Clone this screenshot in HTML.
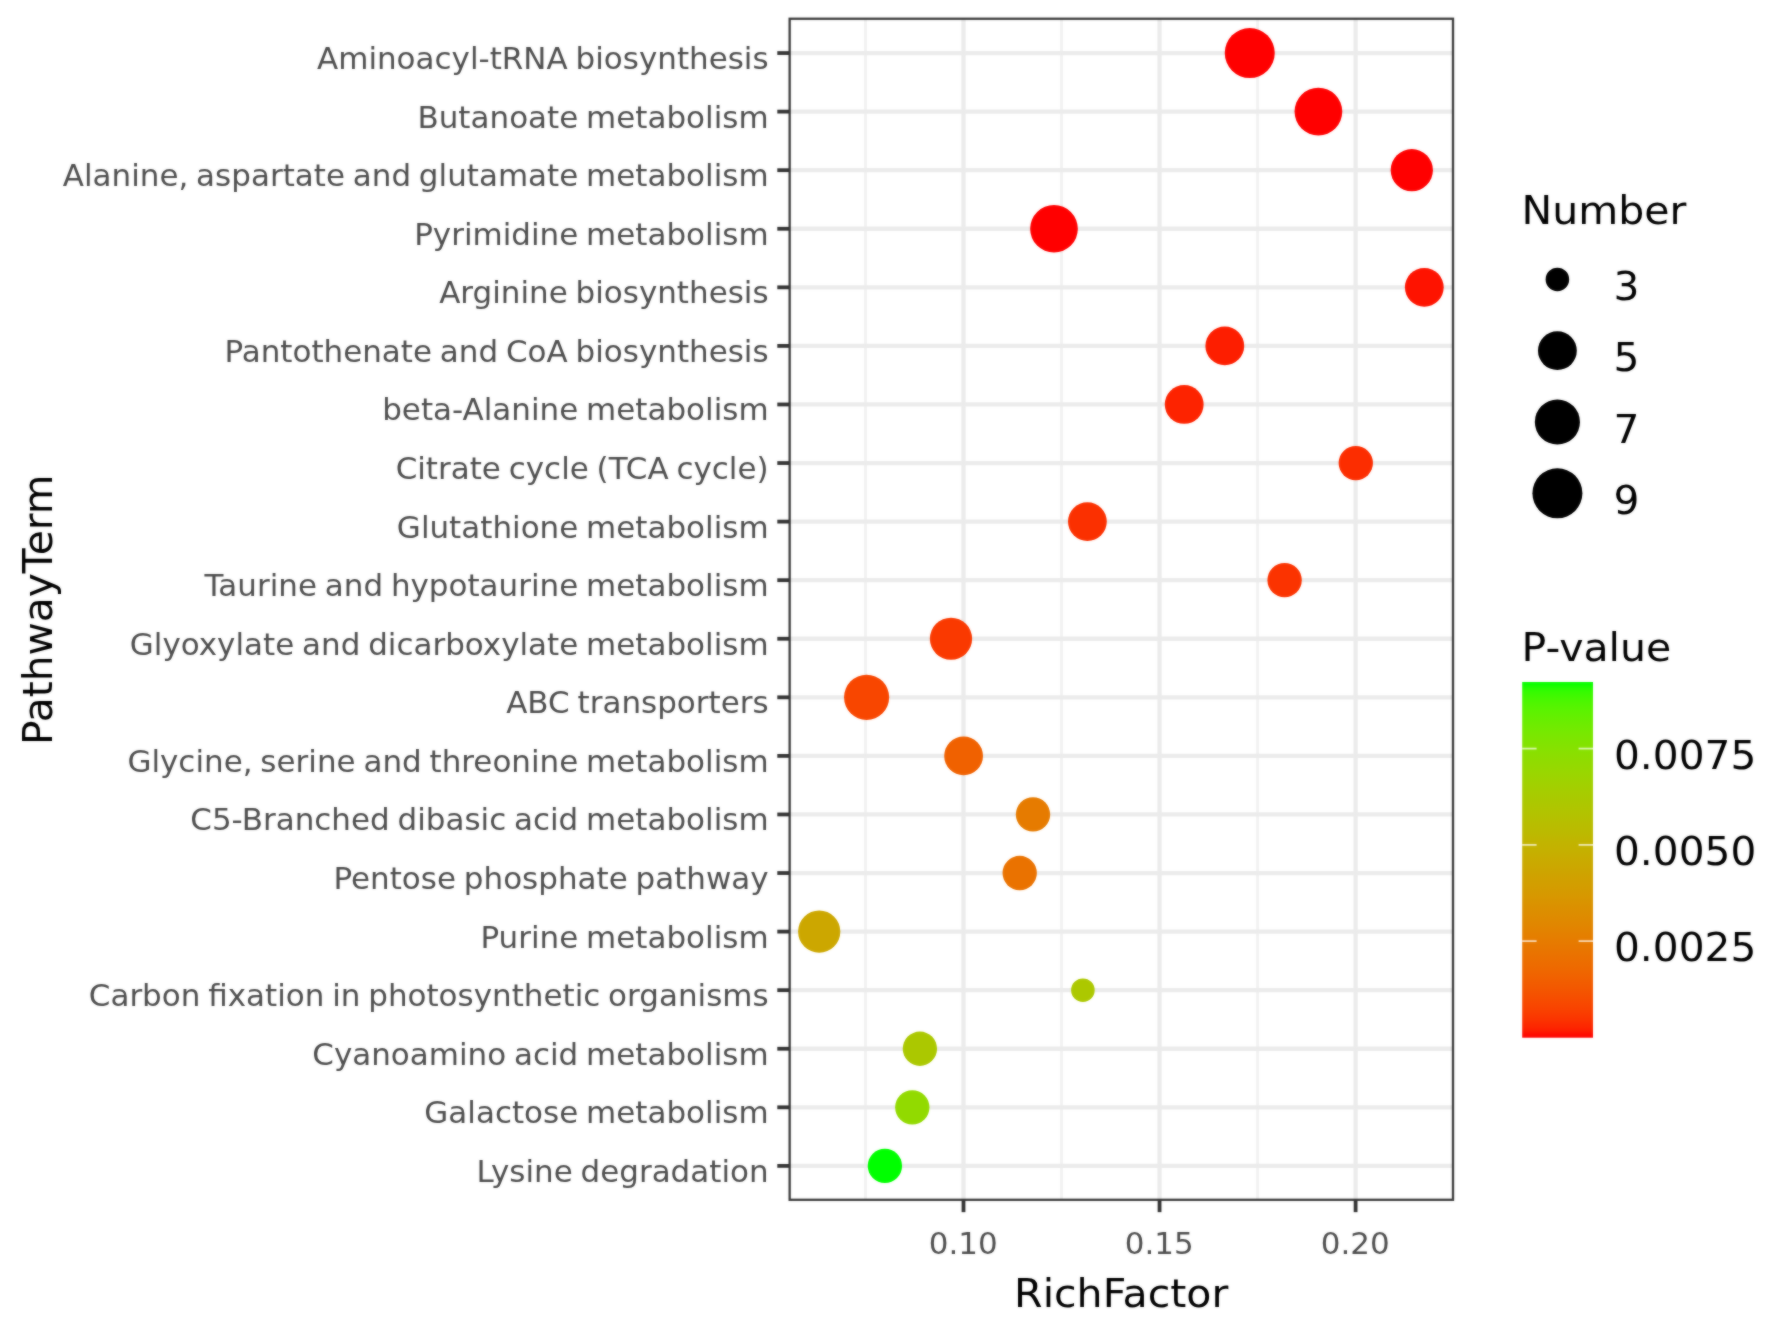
<!DOCTYPE html>
<html lang="en"><head><meta charset="utf-8"><title>KEGG pathway enrichment</title>
<style>html,body{margin:0;padding:0;background:#fff}body{width:1772px;height:1321px;overflow:hidden}svg{display:block}text{font-family:"DejaVu Sans","Liberation Sans",sans-serif}</style></head><body>
<svg width="1772" height="1321" viewBox="0 0 1772 1321">
<defs><filter id="soft" x="0" y="0" width="1772" height="1321" filterUnits="userSpaceOnUse" color-interpolation-filters="sRGB"><feGaussianBlur stdDeviation="0.8" result="b"/><feComposite in="SourceGraphic" in2="b" operator="arithmetic" k1="0" k2="0.50" k3="0.50" k4="0"/></filter></defs>
<g filter="url(#soft)">
<rect x="0" y="0" width="1772" height="1321" fill="#ffffff"/>
<defs><linearGradient id="pg" x1="0" y1="1" x2="0" y2="0">
<stop offset="0.000" stop-color="#ff0000"/>
<stop offset="0.025" stop-color="#fd2300"/>
<stop offset="0.050" stop-color="#fb3300"/>
<stop offset="0.075" stop-color="#f94000"/>
<stop offset="0.100" stop-color="#f74a00"/>
<stop offset="0.125" stop-color="#f45300"/>
<stop offset="0.150" stop-color="#f25b00"/>
<stop offset="0.175" stop-color="#f06300"/>
<stop offset="0.200" stop-color="#ed6a00"/>
<stop offset="0.225" stop-color="#eb7000"/>
<stop offset="0.250" stop-color="#e87600"/>
<stop offset="0.275" stop-color="#e67c00"/>
<stop offset="0.300" stop-color="#e38200"/>
<stop offset="0.325" stop-color="#e08800"/>
<stop offset="0.350" stop-color="#dd8d00"/>
<stop offset="0.375" stop-color="#da9200"/>
<stop offset="0.400" stop-color="#d79800"/>
<stop offset="0.425" stop-color="#d39d00"/>
<stop offset="0.450" stop-color="#d0a100"/>
<stop offset="0.475" stop-color="#cca600"/>
<stop offset="0.500" stop-color="#c9ab00"/>
<stop offset="0.525" stop-color="#c5b000"/>
<stop offset="0.550" stop-color="#c1b400"/>
<stop offset="0.575" stop-color="#bcb900"/>
<stop offset="0.600" stop-color="#b8bd00"/>
<stop offset="0.625" stop-color="#b3c200"/>
<stop offset="0.650" stop-color="#aec600"/>
<stop offset="0.675" stop-color="#a9ca00"/>
<stop offset="0.700" stop-color="#a4ce00"/>
<stop offset="0.725" stop-color="#9ed300"/>
<stop offset="0.750" stop-color="#98d700"/>
<stop offset="0.775" stop-color="#91db00"/>
<stop offset="0.800" stop-color="#8adf00"/>
<stop offset="0.825" stop-color="#82e300"/>
<stop offset="0.850" stop-color="#7ae700"/>
<stop offset="0.875" stop-color="#70eb00"/>
<stop offset="0.900" stop-color="#65ef00"/>
<stop offset="0.925" stop-color="#59f300"/>
<stop offset="0.950" stop-color="#49f700"/>
<stop offset="0.975" stop-color="#33fb00"/>
<stop offset="1.000" stop-color="#00ff00"/>
</linearGradient><clipPath id="pc"><rect x="789.65" y="18.75" width="663.35" height="1181.05"/></clipPath></defs>
<g clip-path="url(#pc)">
<g stroke="#f1f1f1" stroke-width="2.80">
<line x1="865.48" y1="18.75" x2="865.48" y2="1199.80"/>
<line x1="1061.53" y1="18.75" x2="1061.53" y2="1199.80"/>
<line x1="1257.58" y1="18.75" x2="1257.58" y2="1199.80"/>
</g>
<g stroke="#ebebeb" stroke-width="4.30">
<line x1="789.65" y1="53.05" x2="1453.00" y2="53.05"/>
<line x1="789.65" y1="111.62" x2="1453.00" y2="111.62"/>
<line x1="789.65" y1="170.19" x2="1453.00" y2="170.19"/>
<line x1="789.65" y1="228.76" x2="1453.00" y2="228.76"/>
<line x1="789.65" y1="287.33" x2="1453.00" y2="287.33"/>
<line x1="789.65" y1="345.90" x2="1453.00" y2="345.90"/>
<line x1="789.65" y1="404.47" x2="1453.00" y2="404.47"/>
<line x1="789.65" y1="463.04" x2="1453.00" y2="463.04"/>
<line x1="789.65" y1="521.61" x2="1453.00" y2="521.61"/>
<line x1="789.65" y1="580.18" x2="1453.00" y2="580.18"/>
<line x1="789.65" y1="638.75" x2="1453.00" y2="638.75"/>
<line x1="789.65" y1="697.32" x2="1453.00" y2="697.32"/>
<line x1="789.65" y1="755.89" x2="1453.00" y2="755.89"/>
<line x1="789.65" y1="814.46" x2="1453.00" y2="814.46"/>
<line x1="789.65" y1="873.03" x2="1453.00" y2="873.03"/>
<line x1="789.65" y1="931.60" x2="1453.00" y2="931.60"/>
<line x1="789.65" y1="990.17" x2="1453.00" y2="990.17"/>
<line x1="789.65" y1="1048.74" x2="1453.00" y2="1048.74"/>
<line x1="789.65" y1="1107.31" x2="1453.00" y2="1107.31"/>
<line x1="789.65" y1="1165.88" x2="1453.00" y2="1165.88"/>
<line x1="963.50" y1="18.75" x2="963.50" y2="1199.80"/>
<line x1="1159.55" y1="18.75" x2="1159.55" y2="1199.80"/>
<line x1="1355.60" y1="18.75" x2="1355.60" y2="1199.80"/>
</g>
<circle cx="1249.75" cy="53.05" r="25.00" fill="#ff0000"/>
<circle cx="1318.40" cy="111.62" r="23.85" fill="#ff0000"/>
<circle cx="1411.80" cy="170.19" r="21.12" fill="#ff0000"/>
<circle cx="1054.00" cy="228.76" r="23.85" fill="#ff0000"/>
<circle cx="1424.30" cy="287.33" r="19.40" fill="#fe1300"/>
<circle cx="1224.80" cy="345.90" r="19.40" fill="#fd1e00"/>
<circle cx="1184.20" cy="404.47" r="19.40" fill="#fd2300"/>
<circle cx="1355.80" cy="463.04" r="17.16" fill="#fc2d00"/>
<circle cx="1087.40" cy="521.61" r="19.40" fill="#fb3000"/>
<circle cx="1284.60" cy="580.18" r="17.16" fill="#fb3300"/>
<circle cx="951.00" cy="638.75" r="21.12" fill="#fa3900"/>
<circle cx="866.60" cy="697.32" r="22.57" fill="#f84600"/>
<circle cx="963.60" cy="755.89" r="19.40" fill="#f06100"/>
<circle cx="1033.00" cy="814.46" r="17.16" fill="#e67b00"/>
<circle cx="1019.70" cy="873.03" r="17.16" fill="#ea7200"/>
<circle cx="819.20" cy="931.60" r="21.12" fill="#cca700"/>
<circle cx="1082.90" cy="990.17" r="11.75" fill="#acc800"/>
<circle cx="919.90" cy="1048.74" r="17.16" fill="#abc800"/>
<circle cx="912.30" cy="1107.31" r="17.16" fill="#92da00"/>
<circle cx="884.90" cy="1165.88" r="17.16" fill="#00ff00"/>
</g>
<rect x="789.65" y="18.75" width="663.35" height="1181.05" fill="none" stroke="#3a3a3a" stroke-width="2.30"/>
<g stroke="#333333" stroke-width="3.80">
<line x1="777.30" y1="53.05" x2="789.65" y2="53.05"/>
<line x1="777.30" y1="111.62" x2="789.65" y2="111.62"/>
<line x1="777.30" y1="170.19" x2="789.65" y2="170.19"/>
<line x1="777.30" y1="228.76" x2="789.65" y2="228.76"/>
<line x1="777.30" y1="287.33" x2="789.65" y2="287.33"/>
<line x1="777.30" y1="345.90" x2="789.65" y2="345.90"/>
<line x1="777.30" y1="404.47" x2="789.65" y2="404.47"/>
<line x1="777.30" y1="463.04" x2="789.65" y2="463.04"/>
<line x1="777.30" y1="521.61" x2="789.65" y2="521.61"/>
<line x1="777.30" y1="580.18" x2="789.65" y2="580.18"/>
<line x1="777.30" y1="638.75" x2="789.65" y2="638.75"/>
<line x1="777.30" y1="697.32" x2="789.65" y2="697.32"/>
<line x1="777.30" y1="755.89" x2="789.65" y2="755.89"/>
<line x1="777.30" y1="814.46" x2="789.65" y2="814.46"/>
<line x1="777.30" y1="873.03" x2="789.65" y2="873.03"/>
<line x1="777.30" y1="931.60" x2="789.65" y2="931.60"/>
<line x1="777.30" y1="990.17" x2="789.65" y2="990.17"/>
<line x1="777.30" y1="1048.74" x2="789.65" y2="1048.74"/>
<line x1="777.30" y1="1107.31" x2="789.65" y2="1107.31"/>
<line x1="777.30" y1="1165.88" x2="789.65" y2="1165.88"/>
<line x1="963.50" y1="1199.80" x2="963.50" y2="1212.15"/>
<line x1="1159.55" y1="1199.80" x2="1159.55" y2="1212.15"/>
<line x1="1355.60" y1="1199.80" x2="1355.60" y2="1212.15"/>
</g>
<g font-size="30.50" fill="#4d4d4d" text-anchor="end" style="word-spacing:-2.00px">
<text transform="translate(768.60,68.95) scale(1.0160,1)">Aminoacyl-tRNA biosynthesis</text>
<text transform="translate(768.60,127.52) scale(1.0160,1)">Butanoate metabolism</text>
<text transform="translate(768.60,186.09) scale(1.0160,1)">Alanine, aspartate and glutamate metabolism</text>
<text transform="translate(768.60,244.66) scale(1.0160,1)">Pyrimidine metabolism</text>
<text transform="translate(768.60,303.23) scale(1.0160,1)">Arginine biosynthesis</text>
<text transform="translate(768.60,361.80) scale(1.0160,1)">Pantothenate and CoA biosynthesis</text>
<text transform="translate(768.60,420.37) scale(1.0160,1)">beta-Alanine metabolism</text>
<text transform="translate(768.60,478.94) scale(1.0160,1)">Citrate cycle (TCA cycle)</text>
<text transform="translate(768.60,537.51) scale(1.0160,1)">Glutathione metabolism</text>
<text transform="translate(768.60,596.08) scale(1.0160,1)">Taurine and hypotaurine metabolism</text>
<text transform="translate(768.60,654.65) scale(1.0160,1)">Glyoxylate and dicarboxylate metabolism</text>
<text transform="translate(768.60,713.22) scale(1.0160,1)">ABC transporters</text>
<text transform="translate(768.60,771.79) scale(1.0160,1)">Glycine, serine and threonine metabolism</text>
<text transform="translate(768.60,830.36) scale(1.0160,1)">C5-Branched dibasic acid metabolism</text>
<text transform="translate(768.60,888.93) scale(1.0160,1)">Pentose phosphate pathway</text>
<text transform="translate(768.60,947.50) scale(1.0160,1)">Purine metabolism</text>
<text transform="translate(768.60,1006.07) scale(1.0160,1)">Carbon fixation in photosynthetic organisms</text>
<text transform="translate(768.60,1064.64) scale(1.0160,1)">Cyanoamino acid metabolism</text>
<text transform="translate(768.60,1123.21) scale(1.0160,1)">Galactose metabolism</text>
<text transform="translate(768.60,1181.78) scale(1.0160,1)">Lysine degradation</text>
</g>
<g font-size="30.50" fill="#4d4d4d" text-anchor="middle">
<text transform="translate(963.20,1253.60) scale(1.0160,1)">0.10</text>
<text transform="translate(1159.25,1253.60) scale(1.0160,1)">0.15</text>
<text transform="translate(1355.30,1253.60) scale(1.0160,1)">0.20</text>
</g>
<g font-size="39.00" fill="#000000">
<text transform="translate(1121.20,1306.80) scale(1.0530,1)" text-anchor="middle">RichFactor</text>
<text transform="translate(51.90,609.70) rotate(-90) scale(1.0030,1)" text-anchor="middle" font-size="40.6">PathwayTerm</text>
<text transform="translate(1521.50,223.75) scale(1.0530,1)">Number</text>
<circle cx="1557.4" cy="279.40" r="11.75" fill="#000"/>
<text transform="translate(1613.60,300.00) scale(1.0450,1)">3</text>
<circle cx="1557.4" cy="350.70" r="19.40" fill="#000"/>
<text transform="translate(1613.60,371.30) scale(1.0450,1)">5</text>
<circle cx="1557.4" cy="422.00" r="22.57" fill="#000"/>
<text transform="translate(1613.60,442.60) scale(1.0450,1)">7</text>
<circle cx="1557.4" cy="493.30" r="25.00" fill="#000"/>
<text transform="translate(1613.60,513.90) scale(1.0450,1)">9</text>
<text transform="translate(1521.60,661.30) scale(1.0530,1)">P-value</text>
</g>
<rect x="1522.20" y="682.00" width="70.80" height="355.70" fill="url(#pg)"/>
<g stroke="#ffffff" stroke-opacity="0.7" stroke-width="1.8">
<line x1="1522.20" y1="748.60" x2="1536.60" y2="748.60"/>
<line x1="1578.60" y1="748.60" x2="1593.00" y2="748.60"/>
<line x1="1522.20" y1="844.90" x2="1536.60" y2="844.90"/>
<line x1="1578.60" y1="844.90" x2="1593.00" y2="844.90"/>
<line x1="1522.20" y1="941.10" x2="1536.60" y2="941.10"/>
<line x1="1578.60" y1="941.10" x2="1593.00" y2="941.10"/>
</g>
<g font-size="39.00" fill="#000000">
<text transform="translate(1614.00,768.80) scale(1.0430,1)">0.0075</text>
<text transform="translate(1614.00,865.10) scale(1.0430,1)">0.0050</text>
<text transform="translate(1614.00,961.30) scale(1.0430,1)">0.0025</text>
</g>
</g>
</svg></body></html>
